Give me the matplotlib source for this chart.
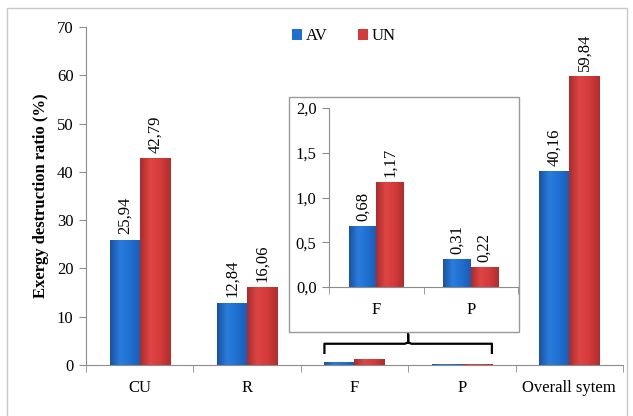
import numpy as np
import matplotlib
matplotlib.use("Agg")
import matplotlib.pyplot as plt
from matplotlib.patches import Rectangle
from matplotlib.colors import LinearSegmentedColormap

# data
categories = ["CU", "R", "F", "P", "Overall sytem"]
av_values = [25.94, 12.84, 0.68, 0.31, 40.16]
un_values = [42.79, 16.06, 1.17, 0.22, 59.84]

inset_categories = ["F", "P"]
inset_av = [0.68, 0.31]
inset_un = [1.17, 0.22]

plt.rcParams['font.family'] = ['Liberation Serif', 'DejaVu Serif']
plt.rcParams['font.size'] = 12

blue_map = LinearSegmentedColormap.from_list("b", ["#1a52a0", "#2a7ddc", "#1f6fd0", "#1b5cb4"])
red_map = LinearSegmentedColormap.from_list("r", ["#aa2c2c", "#de4545", "#d43a3a", "#b02e2e"])


def shade_bars(ax, bars, cmap):
    # horizontal gradient inside each bar to mimic the bevel look
    grad = np.linspace(0, 1, 64).reshape(1, -1)
    for b in bars:
        x, y = b.get_x(), b.get_y()
        w, h = b.get_width(), b.get_height()
        if h <= 0:
            continue
        im = ax.imshow(grad, cmap=cmap, aspect='auto', extent=(x, x + w, y, y + h),
                       zorder=b.get_zorder() + 0.1)
        im.set_clip_path(b)


def label_bars(ax, bars, values):
    for b, v in zip(bars, values):
        ax.annotate(f"{v:.2f}".replace(".", ","), (b.get_x() + b.get_width() / 2, b.get_height()),
                    xytext=(0, 4), textcoords="offset points", rotation=90,
                    ha="center", va="bottom", fontsize=12)


def style_axes(ax, ncat):
    for s in ["top", "right"]:
        ax.spines[s].set_visible(False)
    for s in ["left", "bottom"]:
        ax.spines[s].set_color("#8c8c8c")
    ax.set_xlim(-0.5, ncat - 0.5)
    ax.set_xticks(range(ncat))
    ax.set_xticks(np.arange(-0.5, ncat), minor=True)
    ax.tick_params(axis="x", which="major", length=0, pad=11)
    ax.tick_params(axis="x", which="minor", length=5, color="#8c8c8c", direction="out")
    ax.tick_params(axis="y", length=5, color="#8c8c8c", direction="out", pad=4)


fig = plt.figure(figsize=(6.33, 4.16), dpi=100)

# light frame around the chart
fig.add_artist(Rectangle((0.011, -0.01), 0.98, 0.99, transform=fig.transFigure,
                         fill=False, edgecolor="#c8c8c8", lw=1))

ax = fig.add_axes([0.136, 0.1226, 0.848, 0.8125])
x = np.arange(len(categories))
w = 0.28
bars_av = ax.bar(x - w / 2, av_values, w, color="#1f6fd0", label="AV", zorder=2)
bars_un = ax.bar(x + w / 2, un_values, w, color="#d43a3a", label="UN", zorder=2)
shade_bars(ax, bars_av, blue_map)
shade_bars(ax, bars_un, red_map)
ax.set_ylim(0, 70)
ax.set_yticks(range(0, 71, 10))
ax.set_xticklabels(categories)
style_axes(ax, len(categories))
label_bars(ax, [bars_av[i] for i in (0, 1, 4)], [av_values[i] for i in (0, 1, 4)])
label_bars(ax, [bars_un[i] for i in (0, 1, 4)], [un_values[i] for i in (0, 1, 4)])
ax.set_ylabel("Exergy destruction ratio (%)", fontweight="bold", labelpad=6)

leg = ax.legend(loc="center", bbox_to_anchor=(0.48, 0.973), ncol=2, frameon=False,
                handlelength=0.6, handleheight=0.6, handletextpad=0.25, columnspacing=1.8,
                fontsize=12)

# curly brace over F and P
bx0 = bars_av[2].get_x()
bx1 = bars_un[3].get_x() + bars_un[3].get_width()
bm = (bx0 + bx1) / 2
ax.plot([bx0, bx0, bm - 0.03, bm, bm, bm, bm + 0.03, bx1, bx1],
        [2.5, 4.4, 4.4, 4.7, 6.4, 4.7, 4.4, 4.4, 2.5], color="black", lw=1.6,
        solid_joinstyle="round", zorder=3)

# inset box and axes
fig.add_artist(Rectangle((0.4566, 0.2019), 0.3633, 0.565, transform=fig.transFigure,
                         facecolor="white", edgecolor="#9a9a9a", lw=1, zorder=4))
ins = fig.add_axes([0.5198, 0.31, 0.2986, 0.4303], zorder=5)
ins.patch.set_alpha(0)
xi = np.arange(len(inset_categories))
wi = 0.29
ib_av = ins.bar(xi - wi / 2, inset_av, wi, color="#1f6fd0", zorder=2)
ib_un = ins.bar(xi + wi / 2, inset_un, wi, color="#d43a3a", zorder=2)
shade_bars(ins, ib_av, blue_map)
shade_bars(ins, ib_un, red_map)
ins.set_ylim(0, 2.0)
ins.set_yticks([0, 0.5, 1.0, 1.5, 2.0])
ins.set_yticklabels(["0,0", "0,5", "1,0", "1,5", "2,0"])
ins.set_xticklabels(inset_categories)
style_axes(ins, len(inset_categories))
label_bars(ins, ib_av, inset_av)
label_bars(ins, ib_un, inset_un)

fig.savefig("out.png", dpi=100)
